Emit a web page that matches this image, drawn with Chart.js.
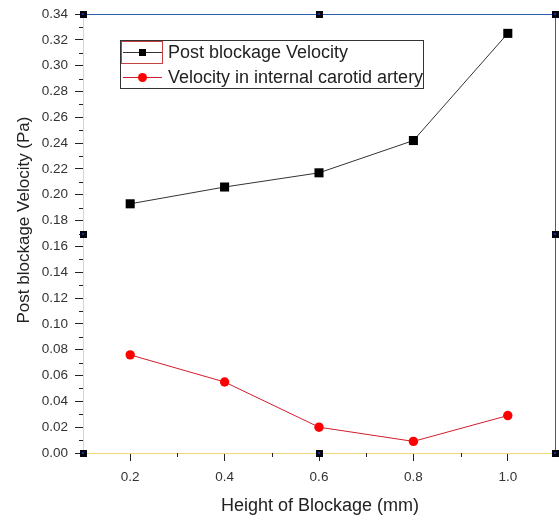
<!DOCTYPE html>
<html>
<head>
<meta charset="utf-8">
<script src="https://cdn.jsdelivr.net/npm/chart.js@4/dist/chart.umd.min.js"></script>
<style>
  html, body { margin: 0; padding: 0; background: #fff; }
  #wrap { width: 559px; height: 520px; }
</style>
</head>
<body>
<div id="wrap"><canvas id="c" width="559" height="520"></canvas></div>
<script>
// Blockage height (mm)
const heights = [0.2, 0.4, 0.6, 0.8, 1.0];
// Post blockage velocity
const postBlockage = [0.193, 0.206, 0.217, 0.242, 0.325];
// Velocity in internal carotid artery
const internalCarotid = [0.076, 0.055, 0.020, 0.009, 0.029];

const xMajorTicks = [0.2, 0.4, 0.6, 0.8, 1.0];
const xMinorTicks = [0.3, 0.5, 0.7, 0.9];
const yMajorTicks = [0.00, 0.02, 0.04, 0.06, 0.08, 0.10, 0.12, 0.14, 0.16, 0.18,
                     0.20, 0.22, 0.24, 0.26, 0.28, 0.30, 0.32, 0.34];
const yMinorTicks = [0.01, 0.03, 0.05, 0.07, 0.09, 0.11, 0.13, 0.15, 0.17,
                     0.19, 0.21, 0.23, 0.25, 0.27, 0.29, 0.31, 0.33];

const xTitle = 'Height of Blockage (mm)';
const yTitle = 'Post blockage Velocity (Pa)';

const FONT = '"Liberation Sans", Arial, sans-serif';

// Frame, minor ticks, corner handles, axis titles and the in-plot legend
const framePlugin = {
  id: 'frame',
  afterDraw(chart) {
    const ctx = chart.ctx;
    const a = chart.chartArea;
    const xs = chart.scales.x, ys = chart.scales.y;
    ctx.save();
    // top and right frame lines
    ctx.strokeStyle = '#2d5fb0';
    ctx.lineWidth = 1;
    ctx.beginPath();
    ctx.moveTo(a.left, a.top + 0.5);
    ctx.lineTo(a.right + 0.5, a.top + 0.5);
    ctx.lineTo(a.right + 0.5, a.bottom);
    ctx.stroke();

    // minor ticks
    ctx.strokeStyle = '#222';
    ctx.beginPath();
    yMinorTicks.forEach(v => {
      const y = Math.round(ys.getPixelForValue(v)) + 0.5;
      ctx.moveTo(a.left - 4, y);
      ctx.lineTo(a.left, y);
    });
    xMinorTicks.forEach(v => {
      const x = Math.round(xs.getPixelForValue(v)) + 0.5;
      ctx.moveTo(x, a.bottom);
      ctx.lineTo(x, a.bottom + 4);
    });
    ctx.stroke();

    // selection handles
    const mx = (a.left + a.right) / 2, my = (a.top + a.bottom) / 2;
    const pts = [[a.left, a.top], [mx, a.top], [a.right, a.top],
                 [a.left, my], [a.right, my],
                 [a.left, a.bottom], [mx, a.bottom], [a.right, a.bottom]];
    pts.forEach(([x, y]) => {
      ctx.fillStyle = '#050510';
      ctx.fillRect(Math.round(x) - 3, Math.round(y) - 3, 7, 7);
      ctx.fillStyle = '#1a2c9a';
      ctx.fillRect(Math.round(x) - 1, Math.round(y) - 1, 2, 2);
    });

    // axis titles
    ctx.fillStyle = '#222';
    ctx.textAlign = 'center';
    ctx.textBaseline = 'middle';
    ctx.font = '18px ' + FONT;
    ctx.fillText(xTitle, 320, 506);
    ctx.save();
    ctx.translate(24, 220);
    ctx.rotate(-Math.PI / 2);
    ctx.font = '17px ' + FONT;
    ctx.fillText(yTitle, 0, 0);
    ctx.restore();

    // legend
    const lx = 120, ly = 40, lw = 303, lh = 48;
    ctx.strokeStyle = '#333';
    ctx.lineWidth = 1;
    ctx.strokeRect(lx + 0.5, ly + 0.5, lw, lh);
    ctx.font = '18px ' + FONT;
    ctx.textBaseline = 'middle';
    ctx.textAlign = 'left';
    chart.data.datasets.forEach((ds, i) => {
      const cy = ly + 12 + i * 25;
      ctx.strokeStyle = ds.borderColor;
      ctx.lineWidth = 1;
      ctx.beginPath();
      ctx.moveTo(lx + 3, cy + 0.5);
      ctx.lineTo(lx + 42, cy + 0.5);
      ctx.stroke();
      ctx.fillStyle = ds.pointBackgroundColor;
      if (ds.pointStyle === 'rect') {
        ctx.fillRect(lx + 19, cy - 3, 7, 7);
      } else {
        ctx.beginPath();
        ctx.arc(lx + 22.5, cy + 0.5, 4.5, 0, Math.PI * 2);
        ctx.fill();
      }
      ctx.fillStyle = '#222';
      ctx.fillText(ds.label, lx + 48, cy + 1);
    });
    // highlight round the first legend symbol
    ctx.strokeStyle = '#c84040';
    ctx.strokeRect(lx + 1.5, ly + 1.5, 41, 22);
    ctx.restore();
  }
};

new Chart(document.getElementById('c'), {
  type: 'line',
  data: {
    datasets: [
      {
        label: 'Post blockage Velocity',
        data: heights.map((h, i) => ({ x: h, y: postBlockage[i] })),
        borderColor: '#333333',
        borderWidth: 1,
        pointStyle: 'rect',
        pointRadius: 6.4,
        pointBackgroundColor: '#000000',
        pointBorderWidth: 0,
        pointBorderColor: '#000000'
      },
      {
        label: 'Velocity in internal carotid artery',
        data: heights.map((h, i) => ({ x: h, y: internalCarotid[i] })),
        borderColor: '#d01c2c',
        borderWidth: 1,
        pointStyle: 'circle',
        pointRadius: 4.7,
        pointBackgroundColor: '#ff0000',
        pointBorderWidth: 0,
        pointBorderColor: '#ff0000'
      }
    ]
  },
  options: {
    responsive: false,
    animation: false,
    layout: { autoPadding: false, padding: { top: 14, right: 4, left: 0, bottom: 0 } },
    plugins: { legend: { display: false }, tooltip: { enabled: false } },
    scales: {
      x: {
        type: 'linear',
        min: 0.1,
        max: 1.1,
        afterBuildTicks: s => { s.ticks = xMajorTicks.map(v => ({ value: v })); },
        afterFit: s => { s.height = 67; s.paddingLeft = 0; s.paddingRight = 0; },
        grid: { drawOnChartArea: false, tickLength: 8, tickColor: '#222', tickWidth: 1 },
        border: { color: '#f0d878', width: 1 },
        ticks: {
          color: '#333',
          padding: 8,
          maxRotation: 0,
          font: { family: FONT, size: 13.5 },
          callback: v => Number(v).toFixed(1)
        }
      },
      y: {
        min: 0,
        max: 0.34,
        afterBuildTicks: s => { s.ticks = yMajorTicks.map(v => ({ value: v })); },
        afterFit: s => { s.width = 83; s.paddingTop = 0; s.paddingBottom = 0; },
        grid: { drawOnChartArea: false, tickLength: 8, tickColor: '#222', tickWidth: 1 },
        border: { color: '#f0d878', width: 1 },
        ticks: {
          color: '#333',
          padding: 7,
          font: { family: FONT, size: 13.5 },
          callback: v => Number(v).toFixed(2)
        }
      }
    }
  },
  plugins: [framePlugin]
});
</script>
</body>
</html>
